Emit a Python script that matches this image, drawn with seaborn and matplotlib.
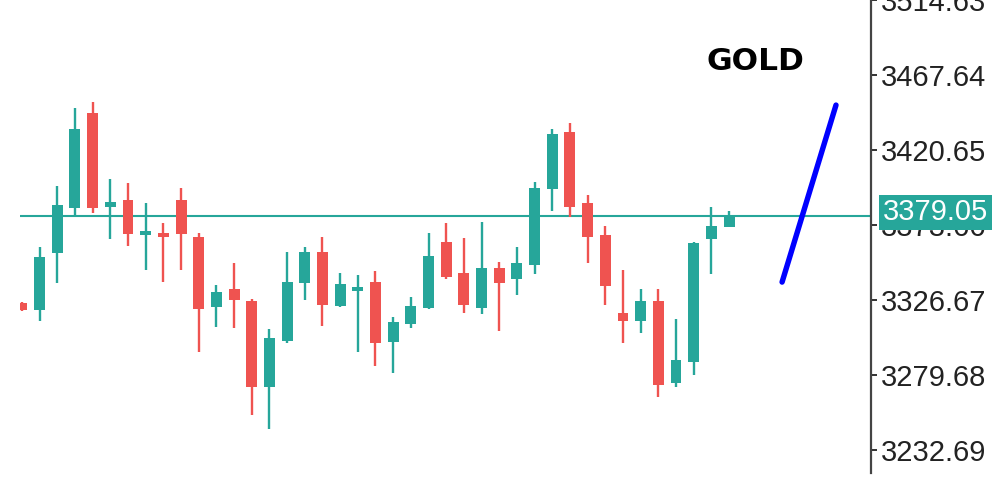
import matplotlib
matplotlib.use("Agg")
import matplotlib.pyplot as plt
import matplotlib.transforms as mtransforms
import numpy as np
import pandas as pd
import seaborn as sns

# candle data (one entry per bar)
opens = [3324.8, 3320.4, 3356.1, 3384.3, 3443.8, 3384.9, 3389.3, 3367.4, 3368.6, 3389.3,
         3366.1, 3322.3, 3333.6, 3326.0, 3272.2, 3301.0, 3337.3, 3356.7, 3322.9, 3332.3,
         3338.0, 3300.4, 3311.6, 3321.7, 3363.0, 3343.6, 3321.7, 3346.7, 3339.8, 3348.6,
         3396.2, 3431.9, 3387.4, 3367.4, 3318.5, 3313.5, 3326.0, 3274.7, 3287.8, 3364.9,
         3372.4]
highs = [3325.4, 3359.9, 3398.1, 3447.0, 3450.7, 3402.5, 3400.0, 3387.4, 3374.9, 3396.8,
         3368.6, 3336.1, 3349.9, 3327.3, 3308.5, 3356.7, 3359.9, 3366.1, 3343.6, 3342.3,
         3344.8, 3316.0, 3328.6, 3368.7, 3374.9, 3365.5, 3375.5, 3350.5, 3359.9, 3400.6,
         3433.8, 3437.6, 3392.5, 3373.0, 3345.5, 3333.6, 3333.6, 3314.8, 3363.0, 3385.0,
         3382.4]
lows = [3319.8, 3313.5, 3337.3, 3378.7, 3381.2, 3364.9, 3360.5, 3345.5, 3338.0, 3345.5,
        3294.1, 3309.8, 3309.1, 3254.6, 3245.9, 3299.7, 3326.7, 3310.4, 3322.3, 3294.1,
        3285.3, 3280.9, 3309.1, 3321.0, 3339.8, 3318.5, 3317.9, 3307.3, 3329.8, 3343.0,
        3382.4, 3378.7, 3349.9, 3323.5, 3299.7, 3306.0, 3265.9, 3272.2, 3279.7, 3343.0,
        3372.4]
closes = [3320.4, 3353.6, 3386.2, 3433.8, 3384.3, 3388.1, 3368.0, 3369.9, 3366.1, 3368.0,
          3321.0, 3331.7, 3326.7, 3272.2, 3302.9, 3338.0, 3356.7, 3323.5, 3336.7, 3334.8,
          3299.7, 3312.9, 3322.9, 3354.2, 3341.1, 3323.5, 3346.7, 3337.3, 3349.9, 3396.8,
          3430.7, 3384.9, 3366.1, 3335.4, 3313.5, 3326.0, 3273.4, 3289.1, 3362.4, 3373.0,
          3379.05]

last_price = 3379.05
price_ticks = [3232.69, 3279.68, 3326.67, 3373.66, 3420.65, 3467.64, 3514.63]

# hand drawn trend stroke (bar index, price)
stroke_x = [43.0, 46.05]
stroke_y = [3337.9, 3448.8]

symbol = "GOLD"

GREEN = "#26a69a"
RED = "#ef5350"

sns.set_theme(style="white")
plt.rcParams['font.family'] = ['Liberation Sans', 'DejaVu Sans']

df = pd.DataFrame({"open": opens, "high": highs, "low": lows, "close": closes})
df["bar"] = np.arange(len(df))
df["up"] = df["close"] >= df["open"]
colors = np.where(df["up"], GREEN, RED)

fig = plt.figure(figsize=(10, 4.8), dpi=100)
ax = fig.add_axes([0.02, 1 - 473 / 480, 0.851, 473 / 480])

ax.axhline(last_price, color=GREEN, linewidth=1.5, zorder=2)

ax.vlines(df["bar"], df["low"], df["high"], colors=colors, linewidth=1.7, zorder=3)
body_low = df[["open", "close"]].min(axis=1)
body_h = (df["close"] - df["open"]).abs().clip(lower=2.0)
ax.bar(df["bar"], body_h, bottom=body_low, width=0.62, color=colors, linewidth=0, zorder=4)

sns.lineplot(x=stroke_x, y=stroke_y, color="#0000ff", linewidth=3.9,
             solid_capstyle="round", ax=ax, zorder=5)

ax.set_xlim(-0.11, 48.03)
ax.set_ylim(3218.3, 3514.63)
ax.set_xticks([])
ax.set_yticks(price_ticks)
ax.set_yticklabels([f"{v:.2f}" for v in price_ticks])
ax.yaxis.tick_right()
ax.tick_params(axis="y", direction="out", length=4, width=1.3, pad=3,
               labelsize=21, colors="#222222")
for side in ["top", "left", "bottom"]:
    ax.spines[side].set_visible(False)
ax.spines["right"].set_color("#444444")
ax.spines["right"].set_linewidth(1.6)

# current price tag on the axis
trans = mtransforms.blended_transform_factory(ax.transAxes, ax.transData)
ax.text(1.014, last_price + 2.5, f"{last_price:.2f}", transform=trans,
        ha="left", va="center", fontsize=21, color="white", clip_on=False, zorder=10,
        bbox=dict(boxstyle="square,pad=0.12", facecolor=GREEN, edgecolor="none"))

fig.text(0.755, 1 - 61 / 480, symbol, ha="center", va="center", fontsize=22.5,
         fontweight="bold", color="black", family="DejaVu Sans")

fig.savefig("out.png", dpi=100)
